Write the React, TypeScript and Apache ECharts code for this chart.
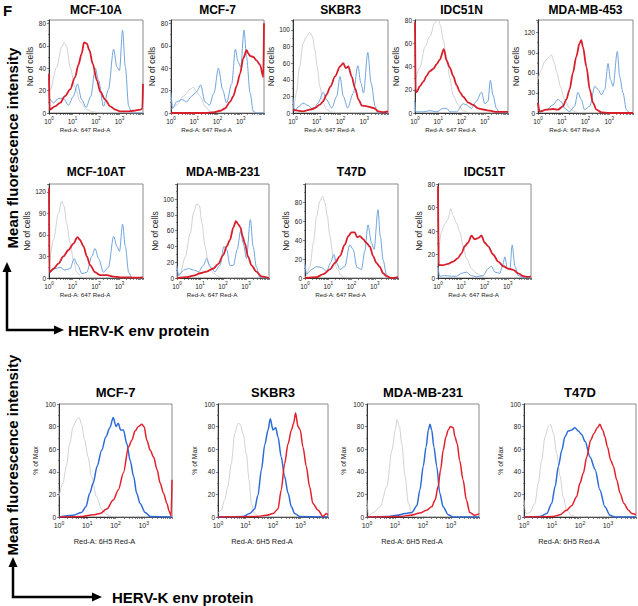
import { useEffect, useRef } from 'react';
import * as echarts from 'echarts';

const FONT = 'Arial, "Liberation Sans", Helvetica, sans-serif';

// x values are log10 of fluorescence intensity (decade exponent), y = count / % of max
const mcf10aGrey = [[0,14],[0.04,20],[0.33,41],[0.54,59],[0.65,63],[0.75,59],[0.9,41],[1.11,23],[1.32,10],[1.61,3],[1.89,1],[2.2,0],[4,0]];
const mcf10aBlue = [[0,17],[0.04,12],[0.19,9],[0.4,13],[0.61,13],[0.83,7],[1.04,15],[1.21,26],[1.39,12],[1.58,5],[1.78,15],[1.97,40],[2.11,29],[2.32,6],[2.53,21],[2.75,57],[2.89,41],[3.0,38],[3.13,74],[3.25,41],[3.39,6],[3.53,0],[4,0]];
const mcf10aRed = [[0,35],[0.03,3],[0.26,6],[0.47,9],[0.68,15],[0.9,21],[1.11,32],[1.25,43],[1.39,53],[1.49,63],[1.61,62],[1.72,56],[1.86,44],[2.04,29],[2.18,19],[2.39,12],[2.6,6],[2.82,3],[3.03,1.5],[3.32,1.5],[3.6,2],[3.89,3],[3.97,4],[4,26]];

const mcf7Grey = [[0,3],[0.24,7],[0.53,15],[0.82,21],[0.96,23],[1.1,19],[1.25,15],[1.46,6],[1.68,1.5],[1.96,0],[4,0]];
const mcf7Blue = [[0,18],[0.07,4],[0.24,10],[0.46,12],[0.67,10],[0.89,15],[1.1,19],[1.28,25],[1.46,10],[1.65,7],[1.85,18],[2.04,40],[2.22,21],[2.39,9],[2.61,26],[2.77,57],[2.88,46],[3.0,41],[3.14,74],[3.25,50],[3.4,18],[3.54,1.5],[3.68,0],[4,0]];
const mcf7Red = [[0,0],[1.5,0],[1.82,0.5],[2.11,2],[2.32,4],[2.54,10],[2.68,15],[2.82,24],[2.97,35],[3.11,49],[3.25,56],[3.33,53],[3.4,51],[3.54,50],[3.68,47],[3.83,43],[3.97,32],[4,80]];

const skbr3Grey = [[0,5],[0.03,8],[0.14,24],[0.28,56],[0.42,84],[0.57,92],[0.71,97],[0.82,92],[0.92,76],[1.02,56],[1.13,32],[1.27,12],[1.41,4],[1.63,1],[1.84,0],[4,0]];
const skbr3Blue = [[0,18],[0.07,2],[0.21,7],[0.42,12],[0.64,9],[0.85,4],[1.06,12],[1.27,25],[1.41,16],[1.63,6],[1.84,20],[1.98,44],[2.12,20],[2.3,6],[2.54,24],[2.73,57],[2.86,36],[2.97,24],[3.15,73],[3.29,36],[3.46,8],[3.56,0],[4,0]];
const skbr3Red = [[0,4],[0.42,2],[0.71,4],[0.92,6],[1.13,10],[1.27,14],[1.41,22],[1.58,32],[1.77,44],[1.98,56],[2.12,60],[2.22,54],[2.33,56],[2.47,44],[2.61,30],[2.76,16],[2.9,9],[3.11,8],[3.39,6],[3.6,2],[3.82,1],[4,2]];

const idc51nGrey = [[0,27],[0.21,39],[0.43,57],[0.64,66],[0.86,78],[1.0,81],[1.1,75],[1.21,63],[1.36,48],[1.5,30],[1.64,15],[1.86,7],[2.07,2],[2.36,0],[4,0]];
const idc51nBlue = [[0,10],[0.03,1],[0.14,1],[0.36,1],[0.64,2],[0.93,1],[1.21,4],[1.36,4],[1.5,1],[1.79,1],[2.07,8],[2.21,7],[2.43,4],[2.64,10],[2.86,18],[3.0,8],[3.14,10],[3.24,28],[3.36,15],[3.5,4],[3.64,0],[4,0]];
const idc51nRed = [[0,78],[0.03,18],[0.07,18],[0.21,23],[0.36,27],[0.5,32],[0.64,36],[0.79,38],[0.93,42],[1.07,46],[1.24,55],[1.36,45],[1.5,39],[1.64,32],[1.79,24],[1.93,18],[2.07,14],[2.29,9],[2.5,7],[2.71,4],[2.93,3],[3.21,2],[3.5,1],[4,1]];

const mda453Grey = [[0,50],[0.14,64],[0.28,77],[0.42,82],[0.56,87],[0.67,77],[0.8,60],[0.94,40],[1.12,20],[1.33,7],[1.54,2],[1.75,0],[4,0]];
const mda453Blue = [[0,10],[0.07,2],[0.35,5],[0.63,12],[0.84,20],[0.98,17],[1.12,7],[1.33,2],[1.54,10],[1.68,31],[1.82,20],[1.96,5],[2.18,10],[2.39,40],[2.53,35],[2.67,27],[2.81,35],[2.95,74],[3.05,50],[3.16,40],[3.34,92],[3.44,54],[3.58,30],[3.72,5],[3.86,0],[4,0]];
const mda453Red = [[0,15],[0.07,2],[0.35,5],[0.63,6],[0.84,5],[1.05,10],[1.19,20],[1.33,35],[1.47,60],[1.61,84],[1.75,104],[1.82,109],[1.89,99],[2.04,69],[2.18,35],[2.32,15],[2.46,5],[2.67,1],[3,0],[4,0]];

const mcf10atGrey = [[0,15],[0.19,53],[0.4,90],[0.54,107],[0.64,100],[0.75,76],[0.9,48],[1.04,25],[1.18,8],[1.4,1],[1.61,0],[4,0]];
const mcf10atBlue = [[0,15],[0.04,8],[0.26,13],[0.47,15],[0.68,11],[0.9,13],[1.07,27],[1.22,18],[1.4,6],[1.61,8],[1.82,30],[1.96,41],[2.11,27],[2.32,8],[2.53,15],[2.75,58],[2.89,44],[3.0,37],[3.13,75],[3.25,44],[3.39,8],[3.53,0],[4,0]];
const mcf10atRed = [[0,125],[0.02,8],[0.19,13],[0.4,20],[0.61,30],[0.83,39],[1.04,48],[1.21,57],[1.32,53],[1.47,44],[1.61,30],[1.75,18],[1.96,8],[2.18,4],[2.46,4],[2.75,2],[3.03,1],[3.32,1],[3.6,0.5],[4,1]];

const mda231Grey = [[0,1],[0.14,6],[0.36,27],[0.58,57],[0.72,83],[0.86,94],[0.98,91],[1.08,70],[1.22,40],[1.37,18],[1.58,6],[1.87,1],[2.16,0],[4,0]];
const mda231Blue = [[0,15],[0.07,3],[0.29,10],[0.5,12],[0.72,10],[0.94,8],[1.15,16],[1.29,25],[1.44,14],[1.65,8],[1.87,16],[2.04,40],[2.16,36],[2.3,16],[2.45,16],[2.62,36],[2.76,59],[2.88,44],[3.02,25],[3.19,74],[3.31,40],[3.45,14],[3.6,1],[3.74,0],[4,0]];
const mda231Red = [[0,0],[0.43,1],[0.72,3],[1.01,6],[1.29,8],[1.58,12],[1.8,18],[2.01,29],[2.16,40],[2.3,48],[2.45,64],[2.56,72],[2.66,68],[2.76,64],[2.85,53],[2.95,44],[3.09,27],[3.24,16],[3.45,8],[3.67,2],[4,0]];

const t47dGrey = [[0,0],[0.04,2],[0.21,12],[0.36,37],[0.5,65],[0.64,81],[0.76,86],[0.86,79],[0.96,65],[1.07,44],[1.21,23],[1.39,9],[1.57,2],[1.79,0],[4,0]];
const t47dBlue = [[0,15],[0.07,4],[0.29,9],[0.5,12],[0.71,11],[0.93,7],[1.1,16],[1.24,25],[1.36,16],[1.5,9],[1.71,12],[1.93,35],[2.07,30],[2.24,11],[2.43,9],[2.57,28],[2.71,56],[2.86,37],[2.97,30],[3.14,72],[3.24,44],[3.36,19],[3.5,4],[3.64,0],[4,0]];
const t47dRed = [[0,0],[0.5,1],[0.79,4],[1.07,9],[1.29,16],[1.5,23],[1.71,35],[1.86,44],[2.0,48],[2.14,48],[2.24,43],[2.36,44],[2.5,41],[2.64,37],[2.79,33],[2.93,23],[3.07,16],[3.21,12],[3.36,5],[3.5,2],[3.71,0],[4,1]];

const idc51tGrey = [[0,12],[0.14,39],[0.29,46],[0.43,50],[0.55,59],[0.65,53],[0.79,47],[0.94,39],[1.08,27],[1.22,17],[1.44,8],[1.65,4],[1.94,1],[2.23,0],[4,0]];
const idc51tBlue = [[0,10],[0.07,1.5],[0.29,2],[0.58,1.5],[0.79,1.5],[1.01,4],[1.22,5],[1.44,2],[1.65,1],[1.94,2],[2.16,8],[2.3,10],[2.45,5],[2.66,4],[2.78,11],[2.88,18],[2.98,8],[3.09,7],[3.19,28],[3.31,10],[3.45,2],[3.67,0],[4,0]];
const idc51tRed = [[0,78],[0.03,11],[0.22,11],[0.43,12],[0.65,14],[0.86,17],[1.01,21],[1.15,27],[1.29,30],[1.44,36],[1.58,33],[1.73,34],[1.87,36],[2.01,30],[2.16,27],[2.37,20],[2.59,14],[2.81,10],[3.02,8],[3.24,7],[3.45,4],[3.67,1.5],[3.88,1],[4,1.5]];

const pMcf7Grey = [[0,18],[0.14,30],[0.26,45],[0.38,65],[0.5,80],[0.62,86],[0.71,88],[0.8,82],[0.91,68],[1.03,53],[1.15,36],[1.33,18],[1.51,7],[1.69,2],[1.92,0],[4,0]];
const pMcf7Blue = [[0,0],[0.5,1.5],[0.8,4],[0.95,9],[1.09,21],[1.21,30],[1.35,45],[1.51,59],[1.66,71],[1.8,79],[1.92,88],[2.02,80],[2.1,83],[2.18,77],[2.28,77],[2.4,65],[2.52,50],[2.64,36],[2.75,21],[2.87,12],[3.05,4],[3.23,0.5],[4,0]];
const pMcf7Red = [[0,0],[0.85,0.5],[1.21,2],[1.45,3],[1.69,7],[1.92,15],[2.1,24],[2.28,39],[2.46,62],[2.58,68],[2.69,76],[2.81,80],[2.93,82],[3.01,80],[3.11,68],[3.23,59],[3.35,53],[3.47,42],[3.58,30],[3.7,21],[3.82,12],[3.9,5],[3.97,1],[4,33]];

const pSkbr3Grey = [[0,3],[0.12,6],[0.24,15],[0.36,27],[0.48,47],[0.61,74],[0.73,83],[0.81,82],[0.91,74],[1.03,56],[1.13,33],[1.21,12],[1.33,3],[1.52,0],[4,0]];
const pSkbr3Blue = [[0,0],[0.91,0.5],[1.15,3],[1.33,7],[1.45,19],[1.58,42],[1.7,64],[1.82,77],[1.9,87],[2.0,77],[2.1,79],[2.18,71],[2.3,53],[2.42,36],[2.55,21],[2.67,9],[2.79,3],[2.97,0.5],[4,0]];
const pSkbr3Red = [[0,0],[1.39,0.5],[1.76,1.5],[2.0,3],[2.18,7],[2.3,24],[2.42,47],[2.55,65],[2.67,77],[2.75,83],[2.82,92],[2.91,80],[2.99,77],[3.09,62],[3.21,45],[3.33,27],[3.45,12],[3.64,6],[3.82,0.5],[3.94,3],[4,1.5]];

const pMda231Grey = [[0,15],[0.06,1.5],[0.24,4],[0.47,9],[0.71,27],[0.89,59],[1.01,77],[1.07,86],[1.16,80],[1.24,65],[1.36,36],[1.48,12],[1.6,3],[1.78,0],[4,0]];
const pMda231Blue = [[0,0],[0.71,0.5],[1.07,1.5],[1.36,3],[1.6,4],[1.78,10],[1.89,24],[2.01,45],[2.11,62],[2.19,77],[2.25,82],[2.31,77],[2.39,62],[2.49,45],[2.6,21],[2.72,9],[2.9,2],[3.08,0],[4,0]];
const pMda231Red = [[0,0],[1.18,0.5],[1.54,1.5],[1.89,3.5],[2.13,6],[2.31,9],[2.43,15],[2.54,27],[2.63,42],[2.72,59],[2.82,71],[2.9,77],[2.98,80],[3.08,79],[3.14,71],[3.22,65],[3.31,50],[3.43,33],[3.55,15],[3.67,4],[3.85,1.5],[4,3]];

const pT47dGrey = [[0,15],[0.07,3],[0.21,4],[0.39,12],[0.51,30],[0.63,50],[0.75,71],[0.87,80],[0.95,82],[1.05,74],[1.17,56],[1.29,36],[1.4,18],[1.52,6],[1.7,1.5],[1.88,0],[4,0]];
const pT47dBlue = [[0,0],[0.57,0.5],[0.81,3],[0.99,12],[1.11,27],[1.23,45],[1.35,59],[1.46,71],[1.58,76],[1.7,77],[1.82,79],[1.94,76],[2.06,73],[2.18,67],[2.36,53],[2.54,42],[2.71,24],[2.89,9],[3.07,1.5],[3.25,0],[4,0]];
const pT47dRed = [[0,0],[1.05,0.5],[1.29,2],[1.52,6],[1.7,10],[1.88,18],[2.0,30],[2.12,39],[2.24,53],[2.38,68],[2.5,74],[2.62,79],[2.71,82],[2.81,77],[2.89,71],[2.98,62],[3.1,50],[3.19,45],[3.31,33],[3.43,21],[3.57,12],[3.73,6],[3.85,3],[4,2]];

const decadeTicks = [0, 1, 2, 3];
const countName = 'No of cells';
const pctName = '% of Max';
const name647 = 'Red-A: 647 Red-A';
const name6H5 = 'Red-A: 6H5 Red-A';

type Panel = {
  title: string; left: number; top: number; width: number; height: number;
  yMax: number; yStep: number; kind: 'count' | 'pct'; titleY: number;
  grey: number[][]; blue: number[][]; red: number[][];
};

const panels: Panel[] = [
  { title: 'MCF-10A', left: 49, top: 20, width: 94, height: 93, yMax: 83, yStep: 20, kind: 'count', titleY: 10, grey: mcf10aGrey, blue: mcf10aBlue, red: mcf10aRed },
  { title: 'MCF-7', left: 171, top: 20, width: 93, height: 93, yMax: 83, yStep: 20, kind: 'count', titleY: 10, grey: mcf7Grey, blue: mcf7Blue, red: mcf7Red },
  { title: 'SKBR3', left: 293, top: 20, width: 95, height: 93, yMax: 112, yStep: 20, kind: 'count', titleY: 10, grey: skbr3Grey, blue: skbr3Blue, red: skbr3Red },
  { title: 'IDC51N', left: 415, top: 20, width: 93, height: 93, yMax: 80, yStep: 20, kind: 'count', titleY: 10, grey: idc51nGrey, blue: idc51nBlue, red: idc51nRed },
  { title: 'MDA-MB-453', left: 538, top: 20, width: 95, height: 93, yMax: 139, yStep: 30, kind: 'count', titleY: 10, grey: mda453Grey, blue: mda453Blue, red: mda453Red },
  { title: 'MCF-10AT', left: 49, top: 184, width: 94, height: 94, yMax: 131, yStep: 30, kind: 'count', titleY: 172, grey: mcf10atGrey, blue: mcf10atBlue, red: mcf10atRed },
  { title: 'MDA-MB-231', left: 177, top: 184, width: 92, height: 94, yMax: 119, yStep: 20, kind: 'count', titleY: 172, grey: mda231Grey, blue: mda231Blue, red: mda231Red },
  { title: 'T47D', left: 305, top: 184, width: 93, height: 94, yMax: 99, yStep: 20, kind: 'count', titleY: 172, grey: t47dGrey, blue: t47dBlue, red: t47dRed },
  { title: 'IDC51T', left: 438, top: 184, width: 93, height: 94, yMax: 80, yStep: 20, kind: 'count', titleY: 172, grey: idc51tGrey, blue: idc51tBlue, red: idc51tRed },
  { title: 'MCF-7', left: 59, top: 404, width: 113, height: 113, yMax: 100, yStep: 20, kind: 'pct', titleY: 392, grey: pMcf7Grey, blue: pMcf7Blue, red: pMcf7Red },
  { title: 'SKBR3', left: 218, top: 404, width: 110, height: 113, yMax: 100, yStep: 20, kind: 'pct', titleY: 392, grey: pSkbr3Grey, blue: pSkbr3Blue, red: pSkbr3Red },
  { title: 'MDA-MB-231', left: 367, top: 404, width: 112, height: 113, yMax: 100, yStep: 20, kind: 'pct', titleY: 392, grey: pMda231Grey, blue: pMda231Blue, red: pMda231Red },
  { title: 'T47D', left: 524, top: 404, width: 112, height: 113, yMax: 100, yStep: 20, kind: 'pct', titleY: 392, grey: pT47dGrey, blue: pT47dBlue, red: pT47dRed },
];

function buildOption() {
  const minorX: number[] = [];
  for (let d = 0; d < 4; d++) for (let k = 1; k < 10; k++) minorX.push(d + Math.log10(k));
  minorX.push(4);

  const grid: any[] = [], xAxis: any[] = [], yAxis: any[] = [], series: any[] = [], graphic: any[] = [];
  panels.forEach((p, i) => {
    const pct = p.kind === 'pct';
    grid.push({ left: p.left, top: p.top, width: p.width, height: p.height, show: true, borderColor: '#8a8a8a', borderWidth: 1, containLabel: false });
    xAxis.push({
      gridIndex: i, type: 'value', min: 0, max: 4,
      axisLine: { show: true, onZero: false, lineStyle: { color: '#333', width: 1 } },
      axisTick: { show: true, length: 2, customValues: minorX, lineStyle: { color: '#333', width: 0.6 } },
      axisLabel: {
        customValues: decadeTicks, margin: 3, color: '#222',
        formatter: (v: number) => `{b|10}{s|${v}}`,
        rich: {
          b: { fontSize: pct ? 7 : 6.5, fontFamily: FONT, color: '#222', lineHeight: 9, verticalAlign: 'bottom' },
          s: { fontSize: pct ? 5 : 4.5, fontFamily: FONT, color: '#222', verticalAlign: 'top', lineHeight: 5 },
        },
      },
      splitLine: { show: false },
      name: pct ? name6H5 : name647, nameLocation: 'middle', nameGap: pct ? 21 : 13,
      nameTextStyle: { fontSize: pct ? 7.4 : 6.2, color: '#222', fontFamily: FONT, padding: [0, 22, 0, 0] },
    });
    yAxis.push({
      gridIndex: i, type: 'value', min: 0, max: p.yMax, interval: p.yStep,
      axisLine: { show: true, lineStyle: { color: '#333', width: 1 } },
      axisTick: { show: true, length: 2, lineStyle: { color: '#333', width: 0.6 } },
      minorTick: { show: true, splitNumber: 2, length: 1, lineStyle: { color: '#333', width: 0.5 } },
      axisLabel: { fontSize: 6.5, fontFamily: FONT, margin: 3, color: '#222', showMaxLabel: p.yMax % p.yStep === 0 },
      splitLine: { show: false },
      name: pct ? pctName : countName, nameLocation: 'middle', nameRotate: 90, nameGap: pct ? 20 : 14,
      nameTextStyle: { fontSize: pct ? 6.8 : 8.5, color: '#222', fontFamily: FONT },
    });
    const common = { type: 'line', xAxisIndex: i, yAxisIndex: i, showSymbol: false, symbol: 'none', smooth: 0.3, smoothMonotone: 'x', silent: true };
    series.push({ ...common, name: p.title + ' control', data: p.grey, lineStyle: { color: '#c6c6c6', width: 0.8 }, z: 2 });
    series.push({ ...common, name: p.title + ' reference', data: p.blue, lineStyle: pct ? { color: '#2d6bd8', width: 1.5 } : { color: '#6ea4dc', width: 1 }, z: 3 });
    series.push({ ...common, name: p.title + ' HERV-K', data: p.red, lineStyle: pct ? { color: '#e2202b', width: 1.5 } : { color: '#d81e2a', width: 1.8 }, z: 4 });
    graphic.push({
      type: 'text', x: p.left + p.width / 2, y: p.titleY,
      style: { text: p.title, font: `bold ${pct ? 13 : 12}px ${FONT}`, fill: '#000', textAlign: 'center', textVerticalAlign: 'middle', align: 'center', verticalAlign: 'middle' },
    });
  });

  const label = (text: string, x: number, y: number, size: number, rotate = false, align = 'center') => ({
    type: 'text', x, y, rotation: rotate ? Math.PI / 2 : 0,
    style: { text, font: `bold ${size}px ${FONT}`, fill: '#000', textAlign: align, textVerticalAlign: 'middle', align, verticalAlign: 'middle' },
  });
  graphic.push(label('F', 3, 10, 15, false, 'left'));
  graphic.push(label('Mean fluorescence intensity', 12, 148, 15, true));
  graphic.push(label('Mean fluorescence intensity', 12, 455, 15, true));
  graphic.push(label('HERV-K env protein', 68, 330, 15, false, 'left'));
  graphic.push(label('HERV-K env protein', 112, 597, 15, false, 'left'));

  const arrowStyle = { stroke: '#000', lineWidth: 2.5, fill: 'none' };
  graphic.push({ type: 'polyline', shape: { points: [[7, 270], [7, 330], [56, 330]] }, style: arrowStyle });
  graphic.push({ type: 'polygon', shape: { points: [[7, 262], [2.5, 272], [11.5, 272]] }, style: { fill: '#000' } });
  graphic.push({ type: 'polygon', shape: { points: [[64, 330], [54, 325.5], [54, 334.5]] }, style: { fill: '#000' } });
  graphic.push({ type: 'polyline', shape: { points: [[13, 565], [13, 597], [94, 597]] }, style: arrowStyle });
  graphic.push({ type: 'polygon', shape: { points: [[13, 557], [8.5, 567], [17.5, 567]] }, style: { fill: '#000' } });
  graphic.push({ type: 'polygon', shape: { points: [[102, 597], [92, 592.5], [92, 601.5]] }, style: { fill: '#000' } });

  return { animation: false, backgroundColor: '#fff', textStyle: { fontFamily: FONT }, grid, xAxis, yAxis, series, graphic };
}

export default function App() {
  const ref = useRef<HTMLDivElement>(null);
  useEffect(() => {
    if (!ref.current) return;
    const chart = echarts.init(ref.current, undefined, { renderer: 'svg' });
    chart.setOption(buildOption() as any);
    return () => chart.dispose();
  }, []);
  return <div ref={ref} style={{ position: 'fixed', left: 0, top: 0, width: 638, height: 606 }} />;
}
